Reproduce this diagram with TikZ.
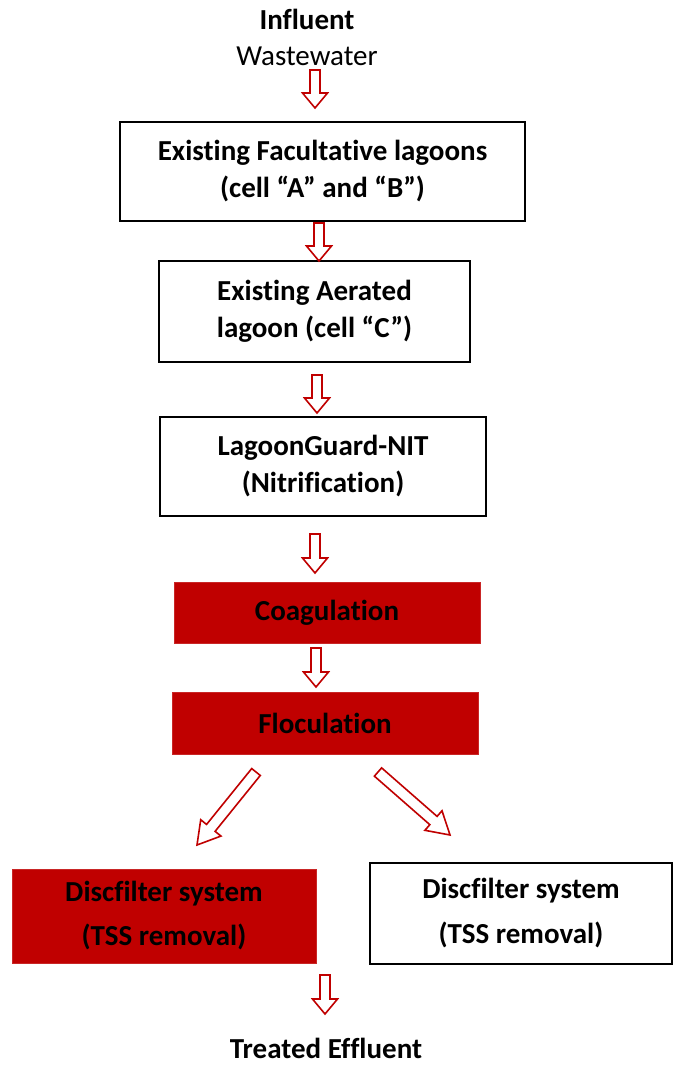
\documentclass[tikz,border=0pt]{standalone}
\usepackage{fontspec}
\setmainfont{Carlito}[Ligatures={NoCommon}]
\usetikzlibrary{calc}
\definecolor{darkred}{HTML}{C00000}
\tikzset{
  base/.style={align=center, font=\fontsize{29}{37}\selectfont\bfseries, inner sep=0pt},
  wbox/.style={base, draw=black, line width=2pt, fill=white},
  rbox/.style={base, fill=darkred, draw=darkred!85!white, line width=0.8pt},
  lbl/.style={font=\fontsize{29}{34}\selectfont, inner sep=0pt},
  barrowstyle/.style={draw=darkred, line width=1.6pt, fill=white, line join=miter},
}
% block arrow from #1 to #2 (tip); #3 shaft half-width, #4 head half-width, #5 head length
\newcommand\blockarr[5]{%
  \coordinate (ba-h) at ($(#2)!#5pt!(#1)$);
  \draw[barrowstyle] ($(#1)!#3pt!90:(#2)$) -- ($(ba-h)!#3pt!90:(#2)$) -- ($(ba-h)!#4pt!90:(#2)$) -- (#2)
    -- ($(ba-h)!#4pt!-90:(#2)$) -- ($(ba-h)!#3pt!-90:(#2)$) -- ($(#1)!#3pt!-90:(#2)$) -- cycle;}
\begin{document}
\begin{tikzpicture}[x=1pt,y=-1pt]
\useasboundingbox[fill=white] (0,0) rectangle (675,1066);
% labels
\node[lbl, font=\fontsize{29}{34}\selectfont\bfseries] (inf) at (307,19) {Influent};
\node[lbl] (ww) at (307,56) {Wastewater};
\node[lbl, font=\fontsize{29}{34}\selectfont\bfseries] (te) at (326,1048) {Treated Effluent};
% boxes
\node[wbox, minimum width=405pt, minimum height=99pt] (fac) at (322.5,171.5) {Existing Facultative lagoons\\(cell “A” and “B”)};
\node[wbox, minimum width=311pt, minimum height=101pt] (aer) at (314.5,311.5) {Existing Aerated\\lagoon (cell “C”)};
\node[wbox, minimum width=326pt, minimum height=99pt] (nit) at (323,466.5) {LagoonGuard-NIT\\(Nitrification)};
\node[rbox, minimum width=306pt, minimum height=61pt] (coag) at (327,612.5) {Coagulation};
\node[rbox, minimum width=306pt, minimum height=62pt] (floc) at (325,723) {Floculation};
\node[rbox, minimum width=304pt, minimum height=94pt, font=\fontsize{29}{44}\selectfont\bfseries] (dfl) at (164,916) {Discfilter system\\(TSS removal)};
\node[wbox, minimum width=302pt, minimum height=101pt, font=\fontsize{29}{45}\selectfont\bfseries] (dfr) at (521,913.5) {Discfilter system\\(TSS removal)};
% arrow end points
\coordinate (a1s) at (315,70);  \coordinate (a1e) at (315,108);
\coordinate (a2s) at (319,223); \coordinate (a2e) at (319,261);
\coordinate (a3s) at (317,375); \coordinate (a3e) at (317,413);
\coordinate (a4s) at (315,534); \coordinate (a4e) at (315,573);
\coordinate (a5s) at (316,648); \coordinate (a5e) at (316,687);
\coordinate (a6s) at (256,772); \coordinate (a6e) at (197,845);
\coordinate (a7s) at (378,772); \coordinate (a7e) at (450,835);
\coordinate (a8s) at (325,975); \coordinate (a8e) at (325,1014);
\blockarr{a1s}{a1e}{5}{12.5}{15}
\blockarr{a2s}{a2e}{5}{12.5}{15}
\blockarr{a3s}{a3e}{5}{12.5}{15}
\blockarr{a4s}{a4e}{5}{12.5}{15}
\blockarr{a5s}{a5e}{5}{12.5}{15}
\blockarr{a6s}{a6e}{5.5}{13}{22}
\blockarr{a7s}{a7e}{5.5}{13}{22}
\blockarr{a8s}{a8e}{5}{12.5}{15}
\end{tikzpicture}
\end{document}
